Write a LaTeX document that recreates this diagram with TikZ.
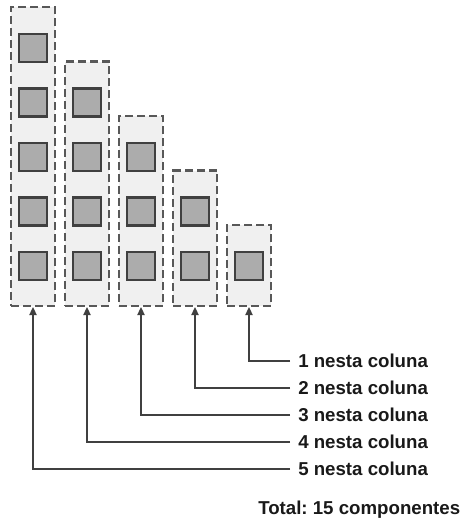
\documentclass[tikz,border=0pt]{standalone}
\usepackage{fontspec}
\setmainfont{Liberation Sans}
\usetikzlibrary{arrows.meta}
\definecolor{rim}{HTML}{585858}
\definecolor{edge}{HTML}{404040}
\definecolor{colfill}{HTML}{F0F0F0}
\definecolor{boxfill}{HTML}{ACACAC}
\frenchspacing

\begin{document}
\begin{tikzpicture}[x=0.75pt,y=-0.75pt,
	coluna/.style={draw=rim, fill=colfill, line width=1.6pt, dash pattern=on 6pt off 3pt, minimum width=33pt, inner sep=0pt},
	peca/.style={draw=edge, fill=boxfill, line width=1.8pt, minimum size=21pt, inner sep=0pt},
	liga/.style={draw=edge, line width=1.1pt, -{Triangle[length=6pt,width=5.5pt]}},
	rotulo/.style={anchor=west, inner xsep=6pt, inner ysep=0pt, text=black!90, font=\bfseries\fontsize{14}{16}\selectfont}]
		\useasboundingbox (0,0) rectangle (464,521);

		% columns and their components
		\foreach \i in {1,...,5} {
			\pgfmathsetmacro\cx{33+54*(\i-1)}
			\pgfmathsetmacro\ytop{7+54.5*(\i-1)}
			\pgfmathsetmacro\h{0.75*(306-\ytop)}
			\node[coluna, minimum height=\h pt] (col\i) at (\cx,{(306+\ytop)/2}) {};
			\foreach \k in {\i,...,5}
				\node[peca] (p\i\k) at (\cx,{48+54.5*(\k-1)}) {};
		}

		% labels
		\foreach \n in {1,...,5} {
			\node[rotulo] (lab\n) at (290,{361+27*(\n-1)}) {\n\ nesta coluna};
			\pgfmathtruncatemacro\c{6-\n}
			\draw[liga] (lab\n.west) -| (col\c.south);
		}

		\node[rotulo, inner xsep=0pt] (total) at (258,510) {Total: 15 componentes};
	\end{tikzpicture}
\end{document}
